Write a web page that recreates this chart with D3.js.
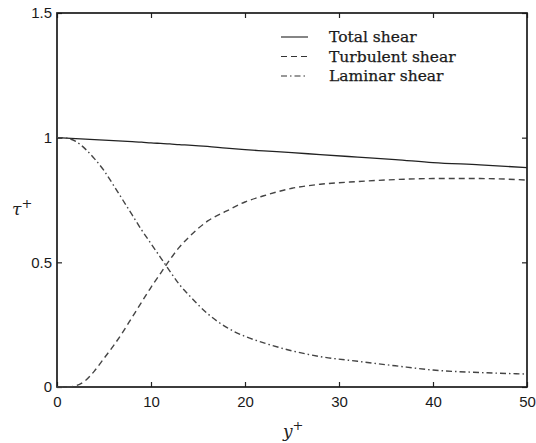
<!DOCTYPE html>
<html>
<head>
<meta charset="utf-8">
<script src="https://cdn.jsdelivr.net/npm/d3@7"></script>
<style>
  body { margin: 0; background: #fff; }
  .tick text { font-family: "Liberation Sans", Arial, sans-serif; font-size: 15px; fill: #1a1a1a; }
</style>
</head>
<body>
<script>
// wall distance y+
let yPlus = [0, 1, 2, 3, 4, 5, 6, 7, 8, 9, 10, 11, 12, 13, 14, 16, 18, 20, 22, 25, 28, 32, 36, 40, 45, 50]
let totalShear = [1.0, 0.998, 0.996, 0.994, 0.992, 0.99, 0.988, 0.986, 0.984, 0.982, 0.979, 0.977, 0.975, 0.972, 0.97, 0.965, 0.958, 0.952, 0.947, 0.94, 0.932, 0.922, 0.912, 0.9, 0.891, 0.88]
let turbulentShear = [0, 0, 0.005, 0.025, 0.065, 0.115, 0.165, 0.22, 0.28, 0.34, 0.4, 0.455, 0.51, 0.56, 0.6, 0.665, 0.705, 0.742, 0.767, 0.797, 0.813, 0.824, 0.832, 0.836, 0.836, 0.83]
let laminarShear = [1.0, 0.998, 0.985, 0.955, 0.915, 0.868, 0.81, 0.75, 0.69, 0.63, 0.575, 0.52, 0.465, 0.412, 0.37, 0.295, 0.24, 0.203, 0.177, 0.145, 0.122, 0.103, 0.085, 0.068, 0.058, 0.052]
let xTicks = [0, 10, 20, 30, 40, 50]
let yTicks = [0, 0.5, 1, 1.5]
let seriesNames = ['Total shear', 'Turbulent shear', 'Laminar shear']
let dashes = [null, '6,4', '6,3,1.5,3']

let width = 536
let height = 443
let mLeft = 57, mRight = 527, mTop = 13, mBottom = 387

let svg = d3.select('body').append('svg')
  .attr('width', width)
  .attr('height', height)

let x = d3.scaleLinear().domain([0, 50]).range([mLeft, mRight])
let y = d3.scaleLinear().domain([0, 1.5]).range([mBottom, mTop])

// axes, ticks pointing inwards on all four sides
svg.append('g')
  .attr('transform', 'translate(0,' + mBottom + ')')
  .call(d3.axisBottom(x).tickValues(xTicks).tickSize(-5).tickPadding(9).tickFormat(d3.format('d')))
svg.append('g')
  .attr('transform', 'translate(0,' + mTop + ')')
  .call(d3.axisTop(x).tickValues(xTicks).tickSize(-5).tickFormat(''))
svg.append('g')
  .attr('transform', 'translate(' + mLeft + ',0)')
  .call(d3.axisLeft(y).tickValues(yTicks).tickSize(-5).tickPadding(5).tickFormat(d => d))
svg.append('g')
  .attr('transform', 'translate(' + mRight + ',0)')
  .call(d3.axisRight(y).tickValues(yTicks).tickSize(-5).tickFormat(''))

svg.selectAll('.domain').remove()
svg.selectAll('.tick line').attr('stroke', '#222').attr('stroke-width', 1.2)

svg.append('rect')
  .attr('x', mLeft)
  .attr('y', mTop)
  .attr('width', mRight - mLeft)
  .attr('height', mBottom - mTop)
  .attr('fill', 'none')
  .attr('stroke', '#1a1a1a')
  .attr('stroke-width', 1.7)

let series = [totalShear, turbulentShear, laminarShear]
let line = d3.line()
  .x((d, i) => x(yPlus[i]))
  .y(d => y(d))
  .curve(d3.curveMonotoneX)

svg.selectAll('.curve')
  .data(series)
  .enter()
  .append('path')
  .attr('class', 'curve')
  .attr('d', d => line(d))
  .attr('fill', 'none')
  .attr('stroke', (d, i) => i === 0 ? '#222' : '#444')
  .attr('stroke-width', (d, i) => i === 0 ? 1.3 : 1.4)
  .attr('stroke-dasharray', (d, i) => dashes[i])

// legend
let legend = svg.append('g')
legend.selectAll('line')
  .data(seriesNames)
  .enter()
  .append('line')
  .attr('x1', 281)
  .attr('x2', 308)
  .attr('y1', (d, i) => 37 + i * 19.5)
  .attr('y2', (d, i) => 37 + i * 19.5)
  .attr('stroke', '#333')
  .attr('stroke-width', 1.2)
  .attr('stroke-dasharray', (d, i) => dashes[i])
legend.selectAll('text')
  .data(seriesNames)
  .enter()
  .append('text')
  .attr('x', 329)
  .attr('y', (d, i) => 42 + i * 19.5)
  .text(d => d)
  .attr('font-family', '"DejaVu Serif", serif')
  .attr('font-size', '15.5px')
  .attr('fill', '#1a1a1a')
  .attr('stroke', '#1a1a1a')
  .attr('stroke-width', 0.25)

// axis labels
let xLabel = svg.append('text')
  .attr('x', 283)
  .attr('y', 437)
  .attr('font-family', '"DejaVu Serif", serif')
  .attr('font-size', '17px')
  .attr('fill', '#222')
xLabel.append('tspan').attr('font-style', 'italic').text('y')
xLabel.append('tspan').attr('dy', -7).attr('font-size', '13px').text('+')

let yLabel = svg.append('text')
  .attr('x', 12)
  .attr('y', 215)
  .attr('font-family', '"DejaVu Serif", serif')
  .attr('font-size', '17px')
  .attr('fill', '#222')
yLabel.append('tspan').attr('font-style', 'italic').text('τ')
yLabel.append('tspan').attr('dy', -7).attr('font-size', '13px').text('+')
</script>
</body>
</html>
